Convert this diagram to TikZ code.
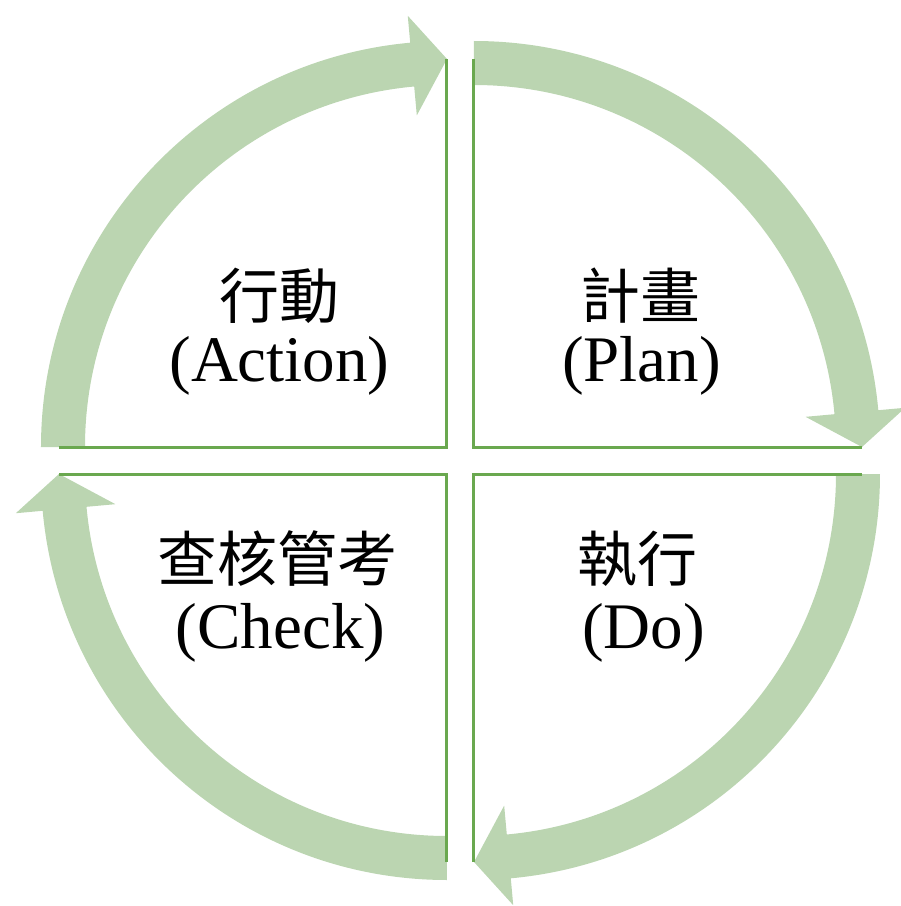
\documentclass[tikz,border=0pt]{standalone}
\usepackage{fontspec}
\setmainfont{Liberation Serif}
\newfontfamily\cjk{Noto Sans CJK TC}
\usetikzlibrary{calc}
\definecolor{bandgreen}{RGB}{187,213,177}
\definecolor{linegreen}{RGB}{106,168,79}
\tikzset{
  cyclearc/.style={fill=bandgreen, draw=none},
  quadline/.style={linegreen, line width=3pt},
  zhlabel/.style={anchor=base, inner sep=0pt, font=\cjk\fontsize{60}{63}\selectfont},
  enlabel/.style={anchor=base, inner sep=0pt, font=\fontsize{65}{68}\selectfont},
}

\begin{document}
\begin{tikzpicture}[x=1pt, y=1pt]
        \useasboundingbox (-460.5,-445.5) rectangle (440.5,460.5);

        % arrows round the cycle
        \foreach \cx/\cy/\a in {13.5/13.5/90, 13.5/-13.5/0, -13.5/-13.5/-90, -13.5/13.5/180}{
            \fill[cyclearc, shift={(\cx,\cy)}] (\a:406) arc[start angle=\a, end angle=\a-84.8, radius=406]
                -- (\a-84.8:433) -- (\a-90:388) -- (\a-84.8:333) -- (\a-84.8:362)
                arc[start angle=\a-84.8, end angle=\a, radius=362] -- cycle;
        }

        % quadrant edges
        \foreach \cx/\cy/\a in {13.5/13.5/90, 13.5/-13.5/0, -13.5/-13.5/-90, -13.5/13.5/180}{
            \draw[quadline, shift={(\cx,\cy)}] (\a:388) -- (0,0) -- (\a-90:388);
        }

        \node[zhlabel] (action) at (-181,142.5) {行動};
        \node[enlabel] (action-en) at (-181,79.5) {(Action)};
        \node[zhlabel] (plan) at (180,142.5) {計畫};
        \node[enlabel] (plan-en) at (181,79.5) {(Plan)};
        \node[zhlabel] (check) at (-183,-120.5) {查核管考};
        \node[enlabel] (check-en) at (-180,-187.5) {(Check)};
        \node[zhlabel] (do) at (177,-120.5) {執行};
        \node[enlabel] (do-en) at (183,-187.5) {(Do)};
\end{tikzpicture}
\end{document}
